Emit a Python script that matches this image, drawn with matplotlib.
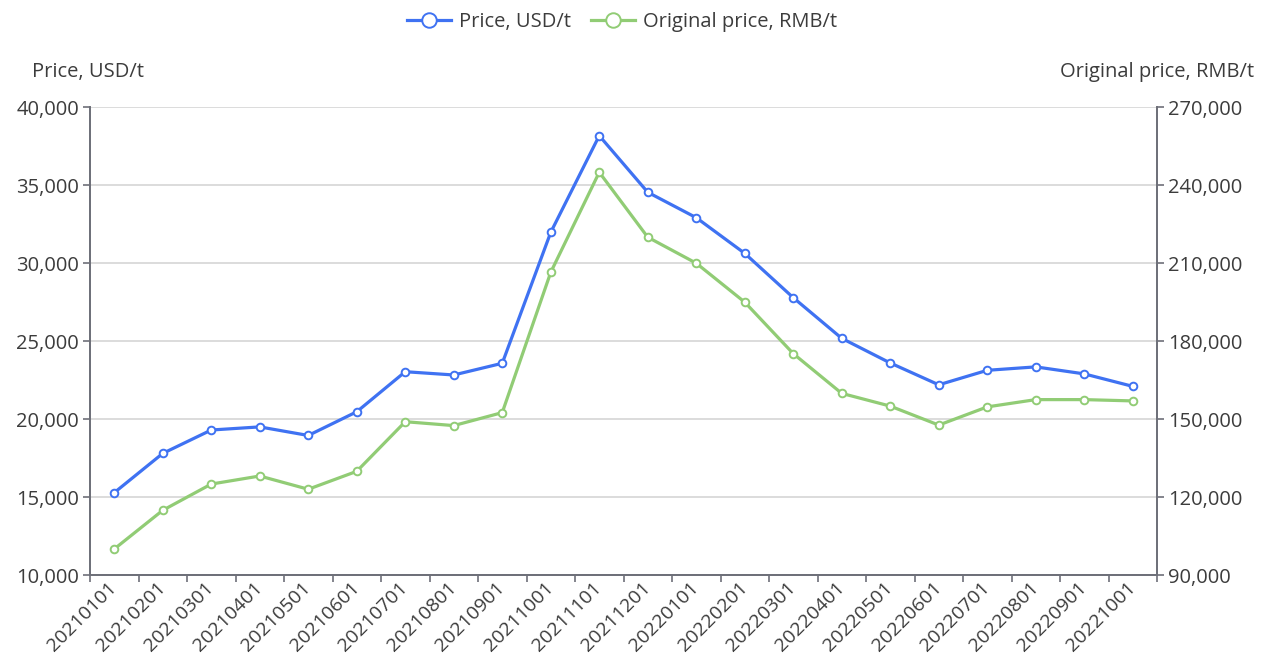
import numpy as np
import matplotlib
matplotlib.use("Agg")
from matplotlib import pyplot as plt
from matplotlib.ticker import FuncFormatter, FixedLocator

plt.rcParams['font.family'] = ['Open Sans', 'DejaVu Sans']

# monthly categories
months = ["20210101", "20210201", "20210301", "20210401", "20210501", "20210601",
          "20210701", "20210801", "20210901", "20211001", "20211101", "20211201",
          "20220101", "20220201", "20220301", "20220401", "20220501", "20220601",
          "20220701", "20220801", "20220901", "20221001"]

# price in USD per tonne (left axis)
price_usd = [15280, 17800, 19300, 19500, 18950, 20470, 23040, 22830, 23580, 31980,
             38180, 34550, 32920, 30630, 27790, 25180, 23600, 22200, 23130, 23350,
             22900, 22100]

# original price in RMB per tonne (right axis)
price_rmb = [100000, 114900, 125000, 128100, 123000, 129900, 149000, 147500, 152500,
             206500, 245000, 220000, 210000, 195000, 175200, 159900, 155000, 147700,
             154700, 157500, 157500, 157000]

left_ticks = [10000, 15000, 20000, 25000, 30000, 35000, 40000]
right_ticks = [90000, 120000, 150000, 180000, 210000, 240000, 270000]

BLUE = "#3f72f2"
GREEN = "#91cc75"
AXIS = "#6e7079"
LABEL = "#3c3c3c"
FS = 14.5

fig = plt.figure(figsize=(12.62, 6.6), dpi=100)
ax = fig.add_axes([90 / 1262, 1 - 575 / 660, (1157 - 90) / 1262, (575 - 107.3) / 660])
ax2 = ax.twinx()

x = np.arange(len(months))

l1, = ax.plot(x, price_usd, color=BLUE, lw=2.3, marker="o", ms=5.5,
              mfc="white", mec=BLUE, mew=1.4, zorder=3, label="Price, USD/t")
l2, = ax2.plot(x, price_rmb, color=GREEN, lw=2.3, marker="o", ms=5.5,
               mfc="white", mec=GREEN, mew=1.4, zorder=3, label="Original price, RMB/t")

ax.set_xlim(-0.5, len(months) - 0.5)
ax.set_ylim(left_ticks[0], left_ticks[-1])
ax2.set_ylim(right_ticks[0], right_ticks[-1])

fmt = FuncFormatter(lambda v, p: "{:,.0f}".format(v))
ax.set_yticks(left_ticks)
ax.yaxis.set_major_formatter(fmt)
ax2.set_yticks(right_ticks)
ax2.yaxis.set_major_formatter(fmt)

# category axis: tick marks at boundaries, labels at centres
ax.set_xticks(x)
ax.set_xticklabels(months, rotation=45, ha="right", va="center",
                   rotation_mode="anchor", fontsize=14, color=LABEL)
ax.xaxis.set_minor_locator(FixedLocator(np.arange(-0.5, len(months), 1.0)))
ax.tick_params(axis="x", which="major", length=0, pad=7)
ax.tick_params(axis="x", which="minor", length=5, width=1.2, color=AXIS)

ax.tick_params(axis="y", length=5, width=1.2, color=AXIS, labelsize=FS,
               labelcolor=LABEL, pad=3)
ax2.tick_params(axis="y", length=5, width=1.2, color=AXIS, labelsize=FS,
                labelcolor=LABEL, pad=3)

ax.grid(axis="y", color="#dcdcdc", lw=1.4, zorder=0)
ax.set_axisbelow(True)

for a in (ax, ax2):
    a.spines["top"].set_visible(False)
    for s in ("left", "right", "bottom"):
        a.spines[s].set_color(AXIS)
        a.spines[s].set_linewidth(1.3)

# axis names above each y axis
fig.text(88 / 1262, 1 - 72 / 660, "Price, USD/t", ha="center", va="center",
         fontsize=FS, color=LABEL)
fig.text(1157 / 1262, 1 - 72 / 660, "Original price, RMB/t", ha="center",
         va="center", fontsize=FS, color=LABEL)

fig.legend(handles=[l1, l2], loc="center", bbox_to_anchor=(622 / 1262, 1 - 22 / 660),
           ncol=2, frameon=False, fontsize=FS, handlelength=2.2,
           columnspacing=1.0, handletextpad=0.4, markerscale=1.9,
           labelcolor=LABEL)

fig.savefig("out.png", dpi=100)
